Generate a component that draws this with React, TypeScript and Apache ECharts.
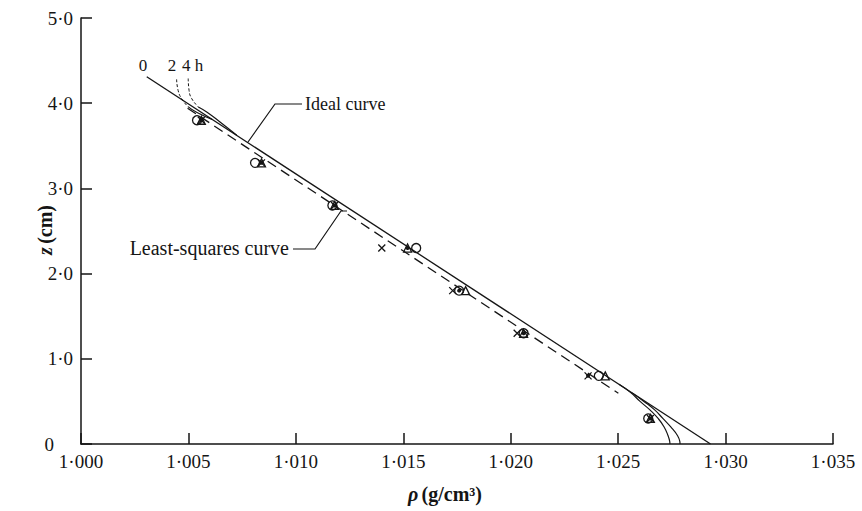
import React, { useEffect, useRef } from 'react';
import * as echarts from 'echarts';

// Heights (cm) of the measured points
const zLevels = [3.8, 3.3, 2.8, 2.3, 1.8, 1.3, 0.8, 0.3];
// Densities (g/cm3) of the four marker kinds at those heights
const circleRho = [1.0054, 1.0081, 1.0117, 1.0156, 1.0176, 1.0206, 1.0241, 1.0264];
const crossRho = [1.0056, 1.0084, 1.0118, 1.014, 1.0173, 1.0203, 1.0236, 1.0265];
const triangleRho = [1.0056, 1.0084, 1.0118, 1.0152, 1.0179, 1.0206, 1.0244, 1.0265];
const dotRho = [1.0056, 1.0084, 1.0118, 1.0152, 1.0176, 1.0206, 1.0236, 1.0265];

// Curves as [rho, z]
const idealCurve = [
  [1.00306, 4.31],
  [1.0293, 0],
];
const leastSquaresCurve = [
  [1.00496, 3.94],
  [1.02501, 0.595],
];
const top2hDashed = [
  [1.00445, 4.28],
  [1.00452, 4.15],
  [1.00469, 4.05],
  [1.00498, 3.96],
];
const top2hSolid = [
  [1.00498, 3.96],
  [1.0054, 3.89],
  [1.0061, 3.81],
];
const top4hDashed = [
  [1.00499, 4.29],
  [1.00503, 4.15],
  [1.00515, 4.055],
  [1.00546, 3.956],
];
const top4hSolid = [
  [1.00546, 3.956],
  [1.00585, 3.897],
  [1.00647, 3.78],
  [1.00725, 3.624],
];
const bottom4h = [
  [1.02504, 0.7],
  [1.0256, 0.6],
  [1.02602, 0.5],
  [1.02648, 0.4],
  [1.02686, 0.3],
  [1.02714, 0.2],
  [1.02732, 0.1],
  [1.0274, 0.03],
  [1.02741, 0],
];
const bottom2h = [
  [1.02565, 0.6],
  [1.0262, 0.5],
  [1.0267, 0.4],
  [1.02708, 0.3],
  [1.02745, 0.2],
  [1.02776, 0.1],
  [1.02787, 0.03],
  [1.02788, 0],
];

const SERIF = '"Liberation Serif", "Times New Roman", serif';
const INK = '#151515';

function pairs(xs: number[], ys: number[]) {
  return xs.map((x, i) => [x, ys[i]]);
}

function lineSeries(data: number[][], dashed: number[] | 'solid', width: number, smooth: boolean) {
  return {
    type: 'line',
    data,
    showSymbol: false,
    smooth,
    silent: true,
    lineStyle: { color: INK, width, type: dashed },
    z: 2,
  };
}

function markerSeries(xs: number[], symbol: string, size: number, filled: boolean) {
  return {
    type: 'scatter',
    data: pairs(xs, zLevels),
    symbol,
    symbolSize: size,
    itemStyle: {
      color: filled ? INK : 'rgba(0,0,0,0)',
      borderColor: INK,
      borderWidth: filled ? 0 : 1.3,
      opacity: 1,
    },
    z: 5,
  };
}

export default function App() {
  const ref = useRef<HTMLDivElement>(null);
  useEffect(() => {
    if (!ref.current) return;
    const chart = echarts.init(ref.current, undefined, { renderer: 'svg' });
    const option: any = {
      animation: false,
      backgroundColor: '#ffffff',
      grid: { left: 81, right: 29, top: 18, bottom: 67, containLabel: false },
      xAxis: {
        type: 'value',
        min: 1.0,
        max: 1.035,
        interval: 0.005,
        axisLine: { show: true, onZero: false, lineStyle: { color: INK, width: 1.5 } },
        axisTick: { show: true, inside: true, length: 11, lineStyle: { color: INK, width: 1.5 } },
        splitLine: { show: false },
        axisLabel: {
          margin: 8,
          color: INK,
          fontFamily: SERIF,
          fontSize: 19,
          formatter: (v: number) => v.toFixed(3).replace('.', '·'),
        },
      },
      yAxis: {
        type: 'value',
        min: 0,
        max: 5,
        interval: 1,
        axisLine: { show: true, onZero: false, lineStyle: { color: INK, width: 1.5 } },
        axisTick: { show: true, inside: true, length: 11, lineStyle: { color: INK, width: 1.5 } },
        splitLine: { show: false },
        axisLabel: {
          margin: 8,
          color: INK,
          fontFamily: SERIF,
          fontSize: 19,
          formatter: (v: number) => (v === 0 ? '{o|0}' : v.toFixed(1).replace('.', '·')),
          rich: {
            o: { fontFamily: SERIF, fontSize: 19, color: INK, padding: [0, 19, 0, 0] },
          },
        },
      },
      series: [
        lineSeries(idealCurve, 'solid', 1.3, false),
        lineSeries(leastSquaresCurve, [10, 6], 1.3, false),
        lineSeries(top2hDashed, [3, 2], 1, true),
        lineSeries(top2hSolid, 'solid', 1.2, true),
        lineSeries(top4hDashed, [3, 2], 1, true),
        lineSeries(top4hSolid, 'solid', 1.2, true),
        lineSeries(bottom4h, 'solid', 1.2, true),
        lineSeries(bottom2h, 'solid', 1.2, true),
        markerSeries(circleRho, 'circle', 9, false),
        markerSeries(triangleRho, 'triangle', 8, false),
        markerSeries(crossRho, 'path://M0,0L10,10M10,0L0,10', 7, false),
        markerSeries(dotRho, 'circle', 4, true),
      ],
      graphic: [
        { type: 'text', x: 143, y: 65, style: { text: '0', font: `17px ${SERIF}`, fill: INK, align: 'center', verticalAlign: 'middle' } },
        { type: 'text', x: 172, y: 65, style: { text: '2', font: `17px ${SERIF}`, fill: INK, align: 'center', verticalAlign: 'middle' } },
        { type: 'text', x: 182, y: 65, style: { text: '4 h', font: `17px ${SERIF}`, fill: INK, align: 'left', verticalAlign: 'middle' } },
        { type: 'text', x: 305, y: 104, style: { text: 'Ideal curve', font: `18px ${SERIF}`, fill: INK, align: 'left', verticalAlign: 'middle' } },
        { type: 'polyline', shape: { points: [[302, 104], [275, 104], [248, 142]] }, style: { stroke: INK, lineWidth: 1.2, fill: null } },
        { type: 'text', x: 289, y: 248, style: { text: 'Least-squares curve', font: `20px ${SERIF}`, fill: INK, align: 'right', verticalAlign: 'middle' } },
        { type: 'polyline', shape: { points: [[293, 249], [315, 249], [341, 211], [347, 211]] }, style: { stroke: INK, lineWidth: 1.2, fill: null } },
        {
          type: 'text',
          x: 45,
          y: 230,
          rotation: Math.PI / 2,
          style: {
            text: '{i|z} {b|(cm)}',
            align: 'center',
            verticalAlign: 'middle',
            rich: {
              i: { fontFamily: SERIF, fontSize: 20, fontStyle: 'italic', fontWeight: 'bold', fill: INK, color: INK },
              b: { fontFamily: SERIF, fontSize: 20, fontWeight: 'bold', fill: INK, color: INK },
            },
          },
        },
        {
          type: 'text',
          x: 445,
          y: 494,
          style: {
            text: '{i|ρ} {b|(g/cm³)}',
            align: 'center',
            verticalAlign: 'middle',
            rich: {
              i: { fontFamily: SERIF, fontSize: 20, fontStyle: 'italic', fontWeight: 'bold', fill: INK, color: INK },
              b: { fontFamily: SERIF, fontSize: 20, fontWeight: 'bold', fill: INK, color: INK },
            },
          },
        },
      ],
    };
    chart.setOption(option);
    return () => chart.dispose();
  }, []);
  return <div ref={ref} style={{ width: 862, height: 511, position: 'absolute', left: 0, top: 0 }} />;
}
